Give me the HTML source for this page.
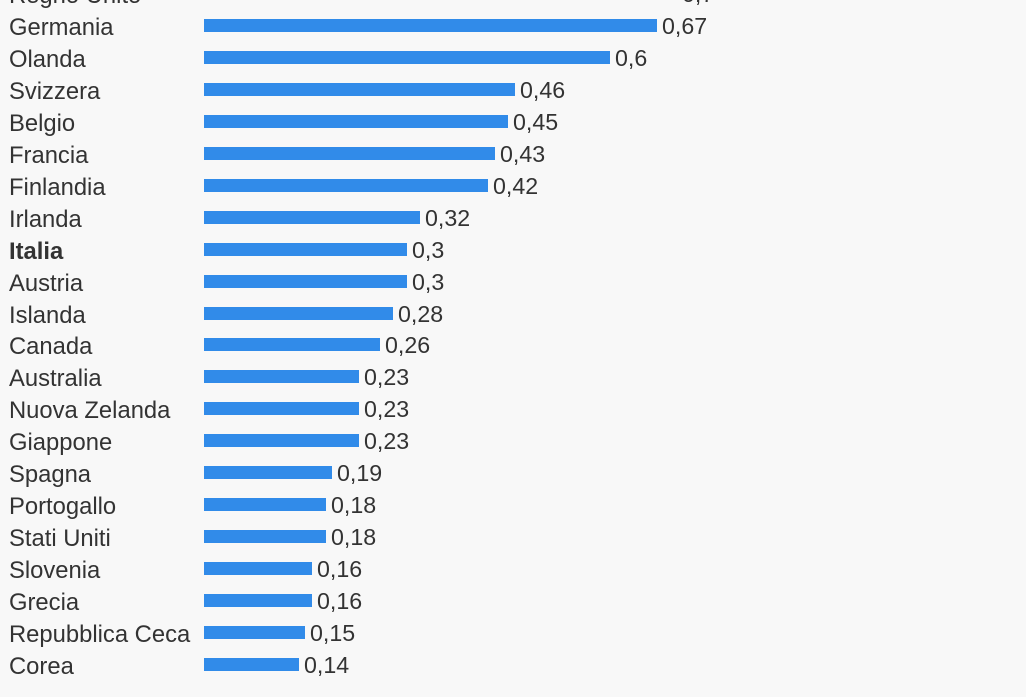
<!DOCTYPE html>
<html><head><meta charset="utf-8"><style>
body{margin:0;background:#f8f8f8;width:1026px;height:684px;overflow:hidden;position:relative;font-family:"Liberation Sans",sans-serif;color:#333}
.r{position:absolute;left:0;height:32px;width:1026px}
.l{position:absolute;left:9px;top:-11px;font-size:23.8px;line-height:26px;white-space:nowrap}
.b{position:absolute;left:204px;top:-7px;height:13px;background:#318be9}
.v{position:absolute;top:-13px;font-size:23.2px;line-height:26px}
</style></head><body>
<div id="c"></div>
<script>
var d=[["Regno Unito",0.7],["Germania",0.67],["Olanda",0.6],["Svizzera",0.46],["Belgio",0.45],["Francia",0.43],["Finlandia",0.42],["Irlanda",0.32],["Italia",0.3],["Austria",0.3],["Islanda",0.28],["Canada",0.26],["Australia",0.23],["Nuova Zelanda",0.23],["Giappone",0.23],["Spagna",0.19],["Portogallo",0.18],["Stati Uniti",0.18],["Slovenia",0.16],["Grecia",0.16],["Repubblica Ceca",0.15],["Corea",0.14]];
var h="";d.forEach(function(e,i){var y=-6+i*31.95;var w=Math.round(e[1]*676);
h+='<div class="r" style="top:'+y+'px"><div class="l"'+(e[0]=="Italia"?' style="font-weight:bold"':'')+'>'+e[0]+'</div>'+(i==0?'<div class="b" style="width:'+w+'px;background:#fff"></div>':'<div class="b" style="width:'+w+'px"></div>')+'<div class="v" style="left:'+(204+w+5)+'px">'+String(e[1]).replace(".",",")+'</div></div>';});
document.getElementById("c").innerHTML=h;
</script>
</body></html>
